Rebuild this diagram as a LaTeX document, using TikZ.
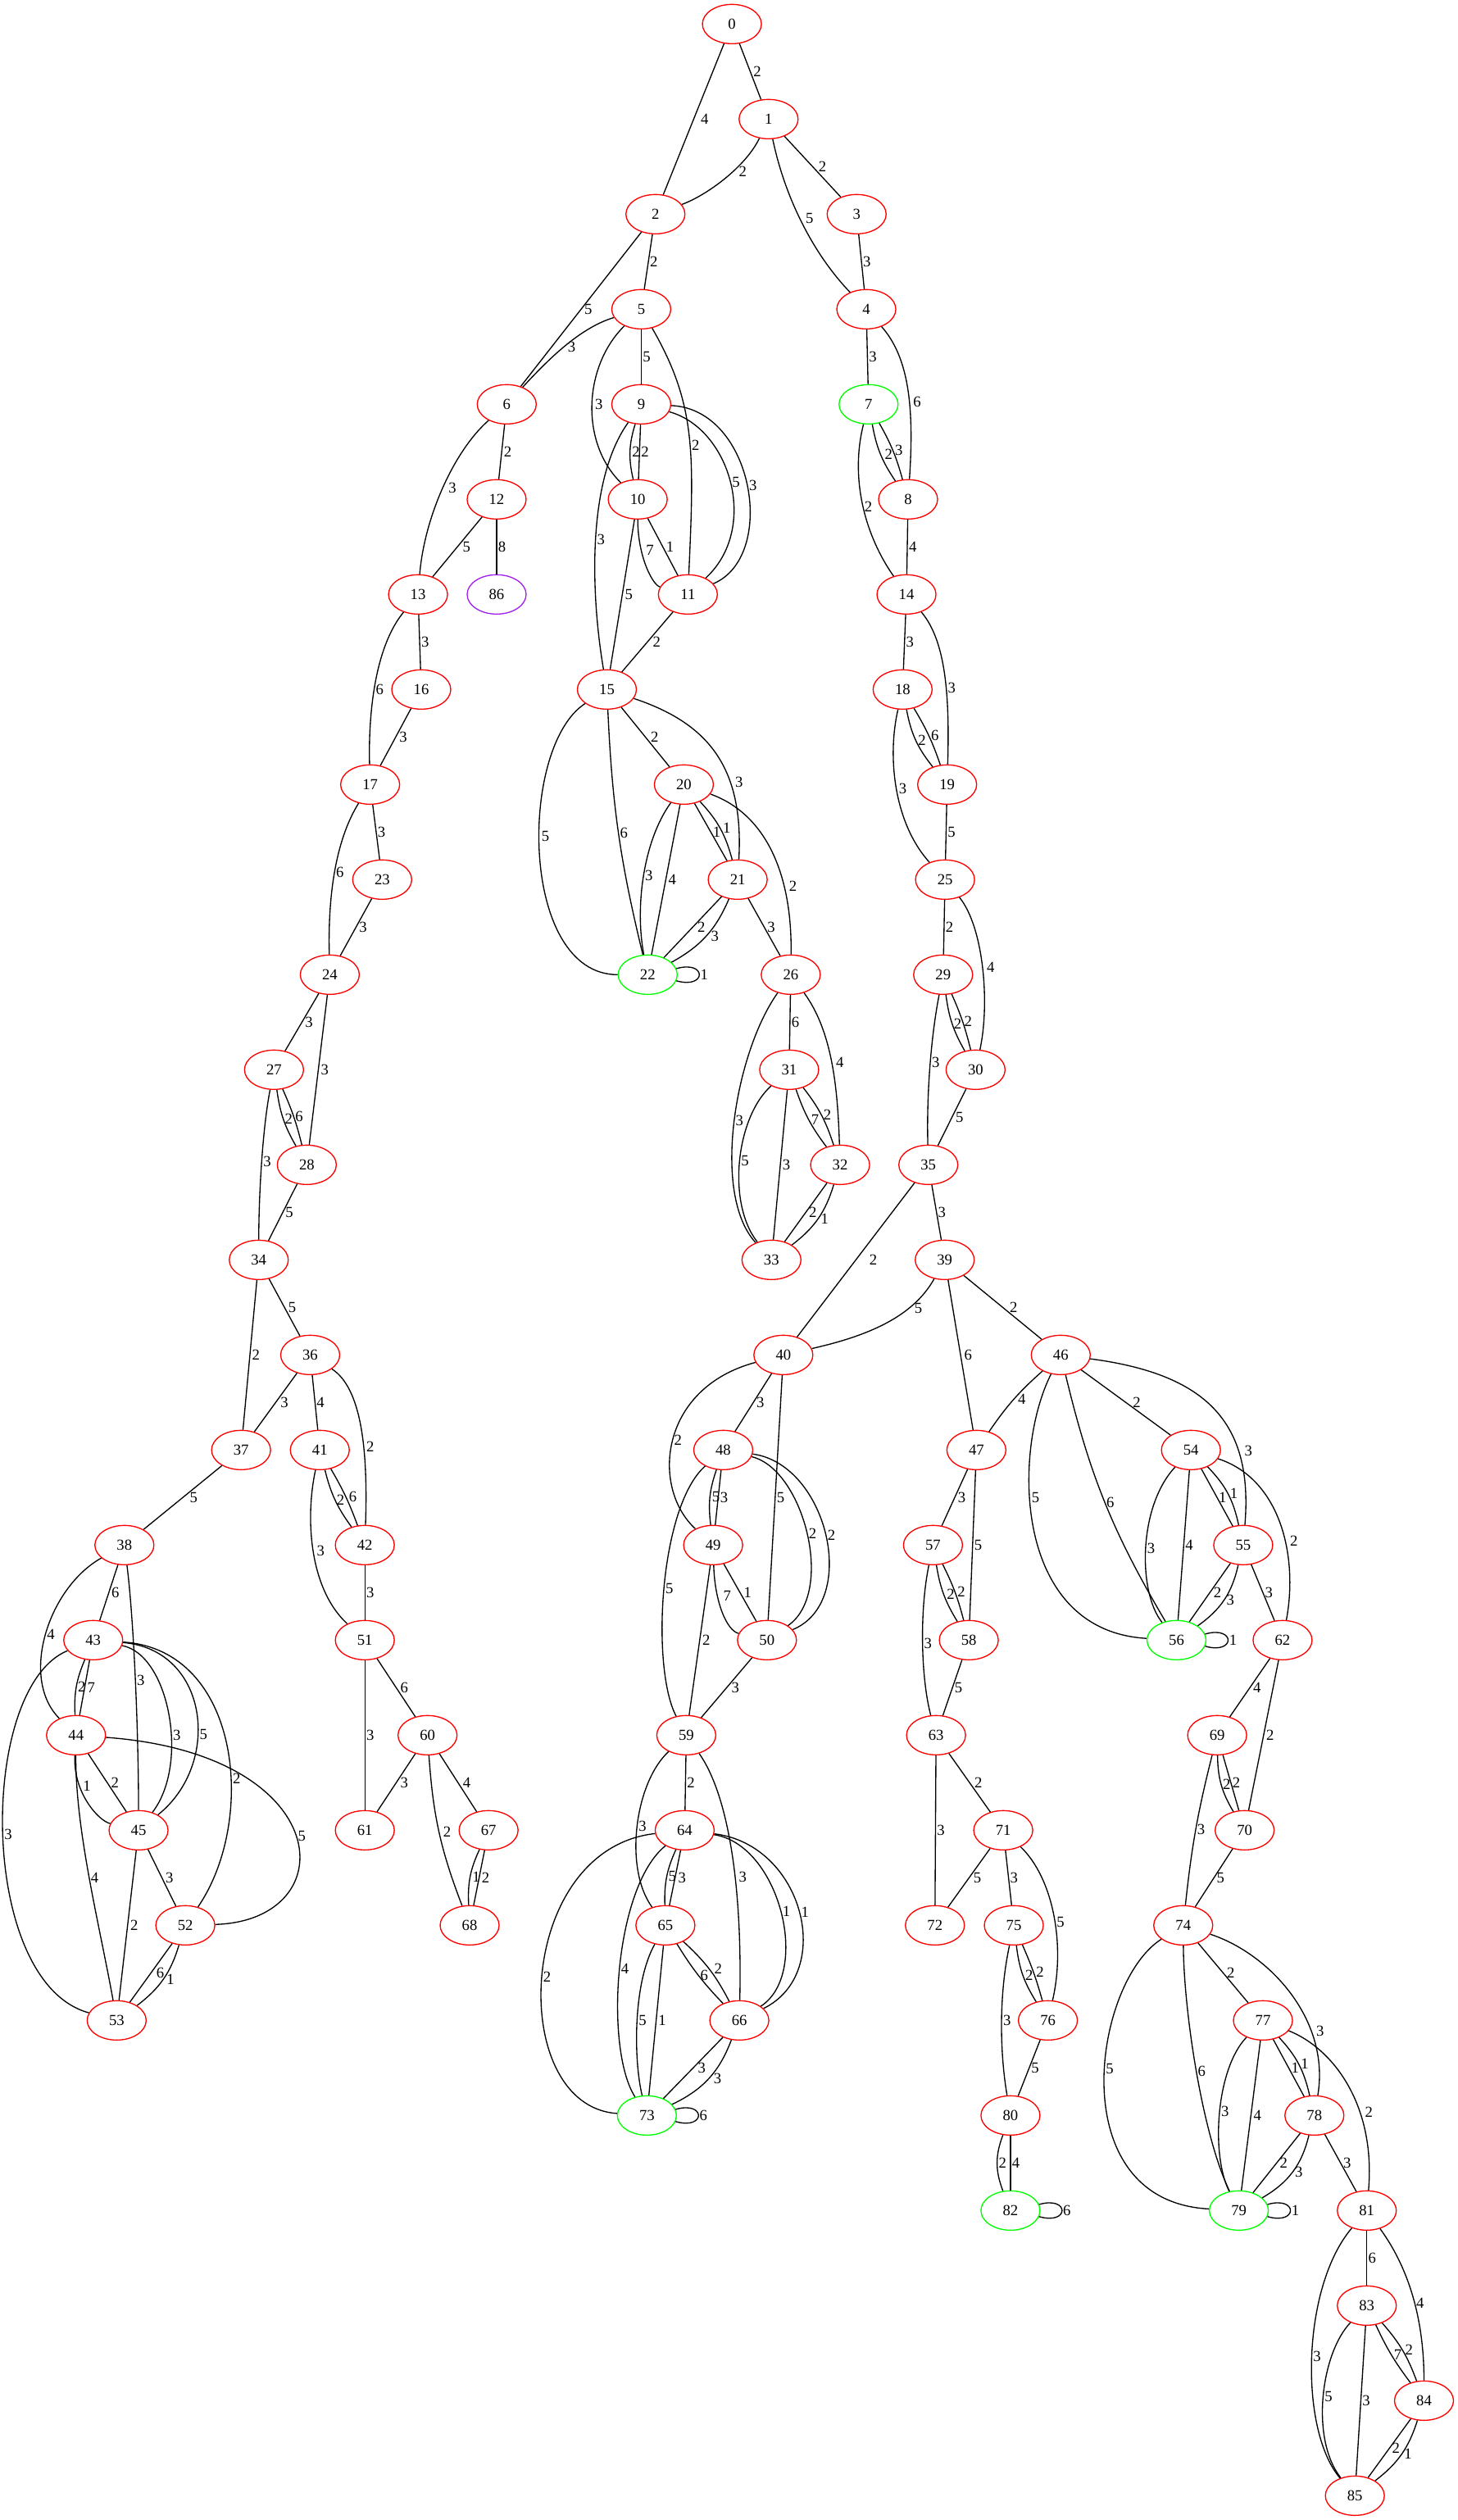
\documentclass[tikz,border=0pt]{standalone}
\usepackage{fontspec}
\setmainfont{Liberation Serif}
\usetikzlibrary{shapes.geometric}
\definecolor{gvgreen}{RGB}{0,255,0}
\definecolor{gvpurple}{RGB}{160,32,240}
\begin{document}
\begin{tikzpicture}[
  x=1.4708pt, y=-87pt,
  line width=1pt,
  vx/.style={ellipse, draw=red, minimum width=54pt, minimum height=36pt,
    inner sep=0pt, font=\fontsize{14}{17}\selectfont},
  vxg/.style={vx, draw=gvgreen},
  vxp/.style={vx, draw=gvpurple},
  lab/.style={anchor=west, inner sep=1pt, font=\fontsize{14}{17}\selectfont},
]
\useasboundingbox (0,-0.2529) rectangle (907.15,26.2557);

\node[vx] (n0) at (455.4,0) {0};
\node[vx] (n1) at (478.2,1) {1};
\node[vx] (n2) at (407.8,2) {2};
\node[vx] (n3) at (533,2) {3};
\node[vx] (n4) at (539,3) {4};
\node[vx] (n5) at (399,3) {5};
\node[vx] (n6) at (315.3,4) {6};
\node[vxg] (n7) at (540.4,4) {7};
\node[vx] (n9) at (399,4) {9};
\node[vx] (n8) at (565,5) {8};
\node[vx] (n10) at (396.8,5) {10};
\node[vx] (n12) at (309,5) {12};
\node[vx] (n11) at (428,6) {11};
\node[vx] (n13) at (260.1,6) {13};
\node[vxp] (n86) at (309,6) {86};
\node[vx] (n14) at (564,6) {14};
\node[vx] (n15) at (377.6,7) {15};
\node[vx] (n16) at (262.1,7) {16};
\node[vx] (n18) at (561.6,7) {18};
\node[vx] (n17) at (230.3,8) {17};
\node[vx] (n19) at (589.3,8) {19};
\node[vx] (n20) at (425.5,8) {20};
\node[vx] (n21) at (459,9) {21};
\node[vx] (n23) at (237.8,9) {23};
\node[vx] (n25) at (588,9) {25};
\node[vxg] (n22) at (403,10) {22};
\node[vx] (n24) at (205.2,10) {24};
\node[vx] (n26) at (492,10) {26};
\node[vx] (n29) at (586.8,10) {29};
\node[vx] (n27) at (170.5,11) {27};
\node[vx] (n30) at (607,11) {30};
\node[vx] (n31) at (491,11) {31};
\node[vx] (n28) at (190.9,12) {28};
\node[vx] (n32) at (522.7,12) {32};
\node[vx] (n35) at (577.6,12) {35};
\node[vx] (n33) at (480,13) {33};
\node[vx] (n34) at (161,13) {34};
\node[vx] (n39) at (587.8,13) {39};
\node[vx] (n36) at (193,14) {36};
\node[vx] (n40) at (487.4,14) {40};
\node[vx] (n46) at (660,14) {46};
\node[vx] (n37) at (150,15) {37};
\node[vx] (n41) at (199,15) {41};
\node[vx] (n47) at (607.5,15) {47};
\node[vx] (n48) at (450,15) {48};
\node[vx] (n54) at (741,15) {54};
\node[vx] (n38) at (77.4,16) {38};
\node[vx] (n42) at (227,16) {42};
\node[vx] (n49) at (443.7,16) {49};
\node[vx] (n55) at (773.5,16) {55};
\node[vx] (n57) at (580.5,16) {57};
\node[vx] (n43) at (58,17) {43};
\node[vx] (n50) at (477.2,17) {50};
\node[vx] (n51) at (227,17) {51};
\node[vxg] (n56) at (732,17) {56};
\node[vx] (n58) at (602.8,17) {58};
\node[vx] (n62) at (798,17) {62};
\node[vx] (n44) at (47.3,18) {44};
\node[vx] (n59) at (427,18) {59};
\node[vx] (n60) at (266,18) {60};
\node[vx] (n63) at (582.4,18) {63};
\node[vx] (n69) at (757.3,18) {69};
\node[vx] (n45) at (86.2,19) {45};
\node[vx] (n61) at (227,19) {61};
\node[vx] (n64) at (426,19) {64};
\node[vx] (n67) at (304,19) {67};
\node[vx] (n70) at (774.4,19) {70};
\node[vx] (n71) at (624.2,19) {71};
\node[vx] (n52) at (115.3,20) {52};
\node[vx] (n65) at (414,20) {65};
\node[vx] (n68) at (292.2,20) {68};
\node[vx] (n72) at (581.7,20) {72};
\node[vx] (n74) at (736.2,20) {74};
\node[vx] (n75) at (630.8,20) {75};
\node[vx] (n53) at (72.6,21) {53};
\node[vx] (n66) at (460,21) {66};
\node[vx] (n76) at (652,21) {76};
\node[vx] (n77) at (785.8,21) {77};
\node[vxg] (n73) at (402.5,22) {73};
\node[vx] (n78) at (817.8,22) {78};
\node[vx] (n80) at (628.7,22) {80};
\node[vxg] (n79) at (770.8,23) {79};
\node[vx] (n81) at (850.4,23) {81};
\node[vxg] (n82) at (628.7,23) {82};
\node[vx] (n83) at (850.4,24) {83};
\node[vx] (n84) at (886,25) {84};
\node[vx] (n85) at (843,26) {85};

\draw (n0) -- node[lab,xshift=1.5pt]{2} (n1);
\draw (n0) -- node[lab,xshift=5pt]{4} (n2);
\draw (n1) .. controls +(-14.2,0.5) and +(32.2,-0.2) .. node[lab,pos=.4,xshift=3.5pt]{2} (n2);
\draw (n1) -- node[lab,xshift=4pt]{2} (n3);
\draw (n1) .. controls +(9.8,0.8) and +(-34,-0.6) .. node[lab,pos=.48,xshift=4pt]{5} (n4);
\draw (n2) -- node[lab]{2} (n5);
\draw (n2) -- node[lab,xshift=1.5pt]{5} (n6);
\draw (n3) -- node[lab]{3} (n4);
\draw (n4) -- node[lab]{3} (n7);
\draw (n4) .. controls +(26,0.5) and +(4,-1.0) .. node[lab,pos=.6,xshift=2pt]{6} (n8);
\draw (n5) .. controls +(-39,0.2) and +(24.7,-0.45) .. node[lab,xshift=2pt]{3} (n6);
\draw (n5) -- node[lab]{5} (n9);
\draw (n5) .. controls +(-36,0.6) and +(-36,-0.6) .. node[lab,xshift=1.5pt]{3} (n10);
\draw (n5) .. controls +(34,1.0) and +(4,-1.5) .. node[lab,pos=.55]{2} (n11);
\draw (n6) -- node[lab,xshift=0.5pt]{2} (n12);
\draw (n6) .. controls +(-33.4,0.5) and +(3.9,-0.8) .. node[lab,xshift=4pt]{3} (n13);
\draw (n7) to[bend right=12] node[lab,xshift=2.5pt]{2} (n8);
\draw (n7) to[bend left=7] node[lab,xshift=0.5pt]{3} (n8);
\draw (n7) .. controls +(-12,0.8) and +(-25,-0.6) .. node[lab]{2} (n14);
\draw (n8) -- node[lab]{4} (n14);
\draw (n9) to[bend right=15] node[lab,xshift=0.5pt]{2} (n10);
\draw (n9) -- node[lab]{2} (n10);
\draw (n9) .. controls +(55,0.25) and +(45,-0.7) .. node[lab]{5} (n11);
\draw (n9) .. controls +(70,0.05) and +(56,-0.4) .. node[lab]{3} (n11);
\draw (n9) .. controls +(-34,0.8) and +(-10,-1.0) .. node[lab]{3} (n15);
\draw (n10) .. controls +(0,0.6) and +(-22,-0.1) .. node[lab,pos=.3,xshift=3pt]{7} (n11);
\draw (n10) -- node[lab,xshift=1.5pt]{1} (n11);
\draw (n10) -- node[lab,xshift=1pt]{5} (n15);
\draw (n11) -- node[lab,xshift=3.5pt]{2} (n15);
\draw (n12) -- node[lab,xshift=3.5pt]{5} (n13);
\draw (n12) -- node[lab]{8} (n86);
\draw (n13) -- node[lab]{3} (n16);
\draw (n13) .. controls +(-29,0.6) and +(-1,-0.6) .. node[lab]{6} (n17);
\draw (n14) -- node[lab]{3} (n18);
\draw (n14) .. controls +(25,0.5) and +(1.5,-0.9) .. node[lab,pos=.58]{3} (n19);
\draw (n15) -- node[lab,xshift=3.5pt]{2} (n20);
\draw (n15) .. controls +(62,0.35) and +(4,-1.2) .. node[lab,pos=.67,xshift=3pt]{3} (n21);
\draw (n15) .. controls +(-55,0.6) and +(-80,0) .. node[lab,pos=.45,xshift=1pt]{5} (n22);
\draw (n15) to[bend right=5.5] node[lab]{6} (n22);
\draw (n16) -- node[lab,xshift=2pt]{3} (n17);
\draw (n17) -- node[lab]{3} (n23);
\draw (n17) .. controls +(-22,0.6) and +(-1.2,-0.8) .. node[lab]{6} (n24);
\draw (n18) to[bend right=14] node[lab,xshift=1pt]{2} (n19);
\draw (n18) to[bend left=6] node[lab,xshift=0.5pt]{6} (n19);
\draw (n18) .. controls +(-9.6,0.7) and +(-32,-0.6) .. node[lab,xshift=1pt]{3} (n25);
\draw (n19) -- node[lab]{5} (n25);
\draw (n20) -- node[lab,xshift=0.5pt]{1} (n21);
\draw (n20) to[bend left=14] node[lab,xshift=1pt]{1} (n21);
\draw (n20) .. controls +(-25.5,0.6) and +(-8,-0.7) .. node[lab]{3} (n22);
\draw (n20) -- node[lab,xshift=1pt]{4} (n22);
\draw (n20) .. controls +(49.5,0.3) and +(1,-1.1) .. node[lab,pos=.7,xshift=3pt]{2} (n26);
\draw (n21) -- node[lab,xshift=3pt]{2} (n22);
\draw (n21) to[bend left=19] node[lab,xshift=3pt]{3} (n22);
\draw (n21) -- node[lab,xshift=1.5pt]{3} (n26);
\draw (n22.12) .. controls +(28pt,8pt) and +(28pt,-8pt) .. node[lab,inner sep=0.5pt]{1} (n22.348);
\draw (n23) -- node[lab,xshift=1.5pt]{3} (n24);
\draw (n24) -- node[lab,xshift=1.5pt]{3} (n27);
\draw (n24) -- node[lab,xshift=1pt]{3} (n28);
\draw (n25) -- node[lab]{2} (n29);
\draw (n25) .. controls +(24,0.5) and +(9,-0.7) .. node[lab,xshift=2.5pt]{4} (n30);
\draw (n26) -- node[lab]{6} (n31);
\draw (n26) .. controls +(26,0.6) and +(-1.5,-0.8) .. node[lab,xshift=2.5pt]{4} (n32);
\draw (n26) .. controls +(-34,0.8) and +(-38,-0.7) .. node[lab]{3} (n33);
\draw (n27) to[bend right=11] node[lab]{2} (n28);
\draw (n27) to[bend left=5] node[lab]{6} (n28);
\draw (n27) .. controls +(-7,0.6) and +(0,-0.7) .. node[lab]{3} (n34);
\draw (n28) -- node[lab,xshift=1pt]{5} (n34);
\draw (n29) to[bend right=11] node[lab]{2} (n30);
\draw (n29) to[bend left=5] node[lab]{2} (n30);
\draw (n29) .. controls +(-7,0.6) and +(-1.2,-0.8) .. node[lab]{3} (n35);
\draw (n30) -- node[lab,xshift=2pt]{5} (n35);
\draw (n31) to[bend right=9] node[lab,xshift=1pt]{7} (n32);
\draw (n31) to[bend left=10] node[lab,xshift=0.5pt]{2} (n32);
\draw (n31) .. controls +(-33,0.5) and +(-28,-0.6) .. node[lab]{5} (n33);
\draw (n31) -- node[lab,xshift=0.5pt]{3} (n33);
\draw (n32) -- node[lab,xshift=1.5pt]{2} (n33);
\draw (n32) to[bend left=18] node[lab,xshift=1pt]{1} (n33);
\draw (n34) -- node[lab,xshift=2pt]{5} (n36);
\draw (n34) -- node[lab,xshift=0.5pt]{2} (n37);
\draw (n35) -- node[lab]{3} (n39);
\draw (n35) -- node[lab,xshift=11pt]{2} (n40);
\draw (n36) -- node[lab,xshift=3pt]{3} (n37);
\draw (n36) -- node[lab]{4} (n41);
\draw (n36) .. controls +(32,0.35) and +(2,-1.0) .. node[lab,pos=.62,xshift=1pt]{2} (n42);
\draw (n37) -- node[lab,xshift=5pt]{5} (n38);
\draw (n38) -- node[lab,xshift=1pt]{6} (n43);
\draw (n38) .. controls +(-47.4,0.45) and +(-35.3,-0.6) .. node[lab]{4} (n44);
\draw (n38) .. controls +(6,0.8) and +(0,-1.0) .. node[lab]{3} (n45);
\draw (n39) .. controls +(-19.8,0.6) and +(52.6,-0.2) .. node[lab,pos=.3,xshift=3.5pt]{5} (n40);
\draw (n39) -- node[lab,xshift=5pt]{2} (n46);
\draw (n39) -- node[lab,xshift=2pt]{6} (n47);
\draw (n40) -- node[lab,xshift=1.5pt]{3} (n48);
\draw (n40) .. controls +(-77.4,0.35) and +(-38.7,-0.6) .. node[lab]{2} (n49);
\draw (n40) -- node[lab]{5} (n50);
\draw (n41) to[bend right=11] node[lab]{2} (n42);
\draw (n41) to[bend left=5] node[lab,xshift=1.5pt]{6} (n42);
\draw (n41) .. controls +(-9,0.7) and +(-35,-0.55) .. node[lab,xshift=2pt]{3} (n51);
\draw (n42) -- node[lab]{3} (n51);
\draw (n43) to[bend right=13] node[lab]{2} (n44);
\draw (n43) -- node[lab,xshift=1pt]{7} (n44);
\draw (n43) .. controls +(47,0.15) and +(32,-0.7) .. node[lab,pos=.6]{3} (n45);
\draw (n43) .. controls +(72,0.1) and +(52,-0.7) .. node[lab,pos=.6]{5} (n45);
\draw (n43) .. controls +(92,0.1) and +(44.7,-1.1) .. node[lab,pos=.6]{2} (n52);
\draw (n43) .. controls +(-72,0.5) and +(-86.6,-0.4) .. node[lab]{3} (n53);
\draw (n44) .. controls +(-2,0.6) and +(-25,-0.1) .. node[lab,pos=.3,xshift=2pt]{1} (n45);
\draw (n44) -- node[lab,xshift=2pt]{2} (n45);
\draw (n44) .. controls +(162.7,0.2) and +(99.7,-0.05) .. node[lab]{5} (n52);
\draw (n44) .. controls +(-0.5,1.0) and +(-10.6,-1.0) .. node[lab]{4} (n53);
\draw (n45) -- node[lab,xshift=2pt]{3} (n52);
\draw (n45) -- node[lab,xshift=1pt]{2} (n53);
\draw (n46) to[bend right=7] node[lab,xshift=2.5pt]{4} (n47);
\draw (n46) -- node[lab,xshift=5pt]{2} (n54);
\draw (n46) .. controls +(90,0.2) and +(6.5,-1.3) .. node[lab,pos=.72,xshift=4pt]{3} (n55);
\draw (n46) .. controls +(-30,1.0) and +(-102,-0.1) .. node[lab,pos=.4,xshift=0.5pt]{5} (n56);
\draw (n46) to[bend right=8.5] node[lab]{6} (n56);
\draw (n47) -- node[lab,xshift=1.5pt]{3} (n57);
\draw (n47) -- node[lab]{5} (n58);
\draw (n48) to[bend right=13] node[lab,xshift=0.5pt]{5} (n49);
\draw (n48) -- node[lab,xshift=0.5pt]{3} (n49);
\draw (n48) .. controls +(50,0.2) and +(42.8,-0.5) .. node[lab]{2} (n50);
\draw (n48) .. controls +(65,0.15) and +(57.8,-0.4) .. node[lab]{2} (n50);
\draw (n48) .. controls +(-40,0.6) and +(-22,-0.7) .. node[lab]{5} (n59);
\draw (n49) .. controls +(1,0.6) and +(-25,-0.1) .. node[lab,pos=.3,xshift=4pt]{7} (n50);
\draw (n49) -- node[lab,xshift=2pt]{1} (n50);
\draw (n49) -- node[lab,xshift=1pt]{2} (n59);
\draw (n50) -- node[lab,xshift=3pt]{3} (n59);
\draw (n51) -- node[lab,xshift=2.5pt]{6} (n60);
\draw (n51) -- node[lab]{3} (n61);
\draw (n52) -- node[lab,xshift=3.5pt]{6} (n53);
\draw (n52) to[bend left=18] node[lab,xshift=1.5pt]{1} (n53);
\draw (n54) -- node[lab]{1} (n55);
\draw (n54) to[bend left=16] node[lab,xshift=0.5pt]{1} (n55);
\draw (n54) .. controls +(-33,0.6) and +(-24,-0.5) .. node[lab]{3} (n56);
\draw (n54) -- node[lab]{4} (n56);
\draw (n54) .. controls +(55,0.3) and +(10,-0.9) .. node[lab,pos=.6,xshift=3pt]{2} (n62);
\draw (n55) -- node[lab,xshift=2pt]{2} (n56);
\draw (n55) to[bend left=21] node[lab,xshift=0.5pt]{3} (n56);
\draw (n55) -- node[lab,xshift=0.5pt]{3} (n62);
\draw (n56.12) .. controls +(28pt,8pt) and +(28pt,-8pt) .. node[lab,inner sep=0.5pt]{1} (n56.348);
\draw (n57) to[bend right=11] node[lab,xshift=1.5pt]{2} (n58);
\draw (n57) to[bend left=6] node[lab,xshift=1pt]{2} (n58);
\draw (n57) .. controls +(-8.5,0.7) and +(-9.4,-0.6) .. node[lab]{3} (n63);
\draw (n58) -- node[lab,xshift=0.5pt]{5} (n63);
\draw (n59) -- node[lab]{2} (n64);
\draw (n59) .. controls +(-32,0.5) and +(-26,-0.6) .. node[lab]{3} (n65);
\draw (n59) .. controls +(25,0.6) and +(2,-1.5) .. node[lab,pos=.62,xshift=2pt]{3} (n66);
\draw (n60) -- node[lab,xshift=2.5pt]{3} (n61);
\draw (n60) -- node[lab,xshift=3pt]{4} (n67);
\draw (n60) to[bend right=8.5] node[lab,xshift=2.5pt]{2} (n68);
\draw (n62) -- node[lab,xshift=1.5pt]{4} (n69);
\draw (n62) -- node[lab,xshift=1pt]{2} (n70);
\draw (n63) -- node[lab,xshift=3pt]{2} (n71);
\draw (n63) -- node[lab]{3} (n72);
\draw (n64) to[bend right=13] node[lab]{5} (n65);
\draw (n64) -- node[lab,xshift=1.5pt]{3} (n65);
\draw (n64) .. controls +(59,0.15) and +(45,-0.5) .. node[lab]{1} (n66);
\draw (n64) .. controls +(74,0.15) and +(60,-0.5) .. node[lab]{1} (n66);
\draw (n64) .. controls +(-106,0.2) and +(-87.5,-0.1) .. node[lab]{2} (n73);
\draw (n64) .. controls +(-44,0.6) and +(-26.5,-0.7) .. node[lab]{4} (n73);
\draw (n65) to[bend right=6] node[lab,xshift=0.5pt]{6} (n66);
\draw (n65) to[bend left=10] node[lab,xshift=3pt]{2} (n66);
\draw (n65) .. controls +(-20,0.6) and +(-8.5,-0.6) .. node[lab]{5} (n73);
\draw (n65) -- node[lab,xshift=0.5pt]{1} (n73);
\draw (n66) -- node[lab,xshift=3pt]{3} (n73);
\draw (n66) to[bend left=22] node[lab,xshift=3pt]{3} (n73);
\draw (n67) to[bend right=14] node[lab,xshift=0.5pt]{1} (n68);
\draw (n67) -- node[lab,xshift=1pt]{2} (n68);
\draw (n69) to[bend right=15] node[lab]{2} (n70);
\draw (n69) -- node[lab]{2} (n70);
\draw (n69) to[bend right=4] node[lab]{3} (n74);
\draw (n70) -- node[lab,xshift=1pt]{5} (n74);
\draw (n71) -- node[lab,xshift=2.5pt]{5} (n72);
\draw (n71) -- node[lab]{3} (n75);
\draw (n71) .. controls +(31,0.5) and +(11,-0.8) .. node[lab,pos=.55]{5} (n76);
\draw (n73.12) .. controls +(28pt,8pt) and +(28pt,-8pt) .. node[lab,inner sep=0.5pt]{6} (n73.348);
\draw (n74) -- node[lab,xshift=2pt]{2} (n77);
\draw (n74) .. controls +(54,0.3) and +(10,-1.0) .. node[lab,pos=.7,xshift=3pt]{3} (n78);
\draw (n74) .. controls +(-56,0.6) and +(-110.8,-0.1) .. node[lab,pos=.45]{5} (n79);
\draw (n74) .. controls +(0.3,0.9) and +(-22.8,-0.8) .. node[lab]{6} (n79);
\draw (n75) to[bend right=12.5] node[lab,xshift=1pt]{2} (n76);
\draw (n75) to[bend left=4] node[lab,xshift=1pt]{2} (n76);
\draw (n75) .. controls +(-9,0.7) and +(-7,-0.7) .. node[lab]{3} (n80);
\draw (n76) -- node[lab,xshift=0.5pt]{5} (n80);
\draw (n77) -- node[lab,xshift=1pt]{1} (n78);
\draw (n77) to[bend left=15] node[lab,xshift=0.5pt]{1} (n78);
\draw (n77) .. controls +(-28.8,0.5) and +(-17.8,-0.6) .. node[lab]{3} (n79);
\draw (n77) -- node[lab,xshift=1pt]{4} (n79);
\draw (n77) .. controls +(44.2,0.3) and +(5.6,-1.1) .. node[lab,pos=.65,xshift=3pt]{2} (n81);
\draw (n78) -- node[lab,xshift=1.5pt]{2} (n79);
\draw (n78) to[bend left=23] node[lab,xshift=0.5pt]{3} (n79);
\draw (n78) -- node[lab,xshift=1pt]{3} (n81);
\draw (n79.12) .. controls +(28pt,8pt) and +(28pt,-8pt) .. node[lab,inner sep=0.5pt]{1} (n79.348);
\draw (n80) to[bend right=21] node[lab]{2} (n82);
\draw (n80) -- node[lab]{4} (n82);
\draw (n82.12) .. controls +(28pt,8pt) and +(28pt,-8pt) .. node[lab,inner sep=0.5pt]{6} (n82.348);
\draw (n81) -- node[lab]{6} (n83);
\draw (n81) .. controls +(21.6,0.5) and +(0,-1.0) .. node[lab,pos=.6]{4} (n84);
\draw (n81) .. controls +(-40.4,0.8) and +(-35,-0.7) .. node[lab]{3} (n85);
\draw (n83) to[bend right=6] node[lab,xshift=1pt]{7} (n84);
\draw (n83) to[bend left=10.5] node[lab,xshift=1pt]{2} (n84);
\draw (n83) .. controls +(-28.4,0.5) and +(-28,-0.6) .. node[lab]{5} (n85);
\draw (n83) -- node[lab]{3} (n85);
\draw (n84) -- node[lab,xshift=1pt]{2} (n85);
\draw (n84) to[bend left=17.5] node[lab,xshift=1pt]{1} (n85);
\end{tikzpicture}
\end{document}
